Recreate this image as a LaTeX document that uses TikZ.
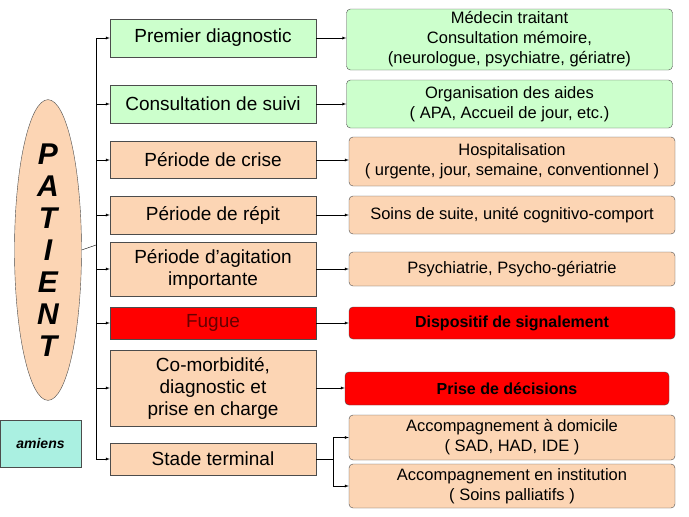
\documentclass[tikz,border=0pt]{standalone}
\usepackage{fontspec}
\setmainfont{Liberation Sans}
\usetikzlibrary{positioning,shapes.geometric}
\definecolor{vert}{RGB}{204,255,204}
\definecolor{peche}{RGB}{252,213,180}
\definecolor{turq}{RGB}{170,240,225}
\tikzset{
    etape/.style={draw=black!70, minimum width=206pt, align=center, font=\fontsize{19}{22}\selectfont, inner sep=1pt},
    action/.style={draw=black!70, rounded corners=4pt, minimum width=326pt, align=center, font=\fontsize{16.5}{20}\selectfont, inner sep=1pt},
    fleche/.style={-latex, black}
}
\begin{document}
\begin{tikzpicture}[x=1pt, y=-1pt]
    \useasboundingbox (0,0) rectangle (689,517);
    % patient
    \node [draw=black!70, fill=peche, ellipse, minimum width=67pt, minimum height=300pt, inner sep=0pt,
        font=\fontsize{30}{32}\bfseries\itshape\selectfont, align=center] (patient) at (48,250)
        {P\\A\\T\\I\\E\\N\\T};
    \node [draw=black!70, fill=turq, minimum width=81pt, minimum height=47pt,
        font=\fontsize{14}{16}\bfseries\itshape\selectfont] (amiens) at (40.5,443.5) {amiens};
    % etapes
    \node [etape, fill=vert, minimum height=38pt] (e1) at (213,38) {Premier diagnostic};
    \node [etape, fill=vert, minimum height=38pt] (e2) at (213,104) {Consultation de suivi};
    \node [etape, fill=peche, minimum height=37pt] (e3) at (213,160) {Période de crise};
    \node [etape, fill=peche, minimum height=38pt] (e4) at (213,215) {Période de répit};
    \node [etape, fill=peche, minimum height=54pt] (e5) at (213,269) {Période d'agitation\\importante};
    \node [etape, fill=red, minimum height=32pt, text=red!40!black] (e6) at (213,323) {Fugue};
    \node [etape, fill=peche, minimum height=76pt] (e7) at (213,388) {Co-morbidité,\\diagnostic et\\prise en charge};
    \node [etape, fill=peche, minimum height=32pt] (e8) at (213,459) {Stade terminal};
    % actions
    \node [action, fill=vert, minimum height=61pt] (a1) at (509.5,39.5) {Médecin traitant\\Consultation mémoire,\\(neurologue, psychiatre, gériatre)};
    \node [action, fill=vert, minimum height=48pt] (a2) at (509.5,104) {Organisation des aides\\( APA, Accueil de jour, etc.)};
    \node [action, fill=peche, minimum height=49pt] (a3) at (512,161.5) {Hospitalisation\\( urgente, jour, semaine, conventionnel )};
    \node [action, fill=peche, minimum height=38pt] (a4) at (512,215) {Soins de suite, unité cognitivo-comport};
    \node [action, fill=peche, minimum height=34pt] (a5) at (512,269) {Psychiatrie, Psycho-gériatrie};
    \node [action, fill=red, minimum height=32pt, font=\fontsize{16}{20}\bfseries\selectfont] (a6) at (512,323) {Dispositif de signalement};
    \node [action, fill=red, minimum height=33pt, minimum width=324pt, font=\fontsize{16}{20}\bfseries\selectfont] (a7) at (507,388.5) {Prise de décisions};
    \node [action, fill=peche, minimum height=45pt] (a8) at (512,437.5) {Accompagnement à domicile\\( SAD, HAD, IDE )};
    \node [action, fill=peche, minimum height=44pt] (a9) at (512,486) {Accompagnement en institution\\( Soins palliatifs )};
    % liaisons
    \coordinate (haut) at (96,38);
    \coordinate (bas) at (96,459);
    \draw (patient.east) -- (96,245);
    \draw (haut) -- (bas);
    \foreach \e in {e1,e2,e3,e4,e5,e6,e7,e8}
        \draw [fleche] (96,0 |- \e.west) -- (\e.west);
    \foreach \e/\a in {e1/a1,e2/a2,e3/a3,e4/a4,e5/a5,e6/a6,e7/a7}
        \draw [fleche] (\e.east) -- (\e.east -| \a.west);
    \coordinate (fourche) at (333,459);
    \draw (e8.east) -- (fourche);
    \draw (333,437.5) -- (333,486);
    \draw [fleche] (333,437.5) -- (a8.west);
    \draw [fleche] (333,486) -- (a9.west);
\end{tikzpicture}
\end{document}
